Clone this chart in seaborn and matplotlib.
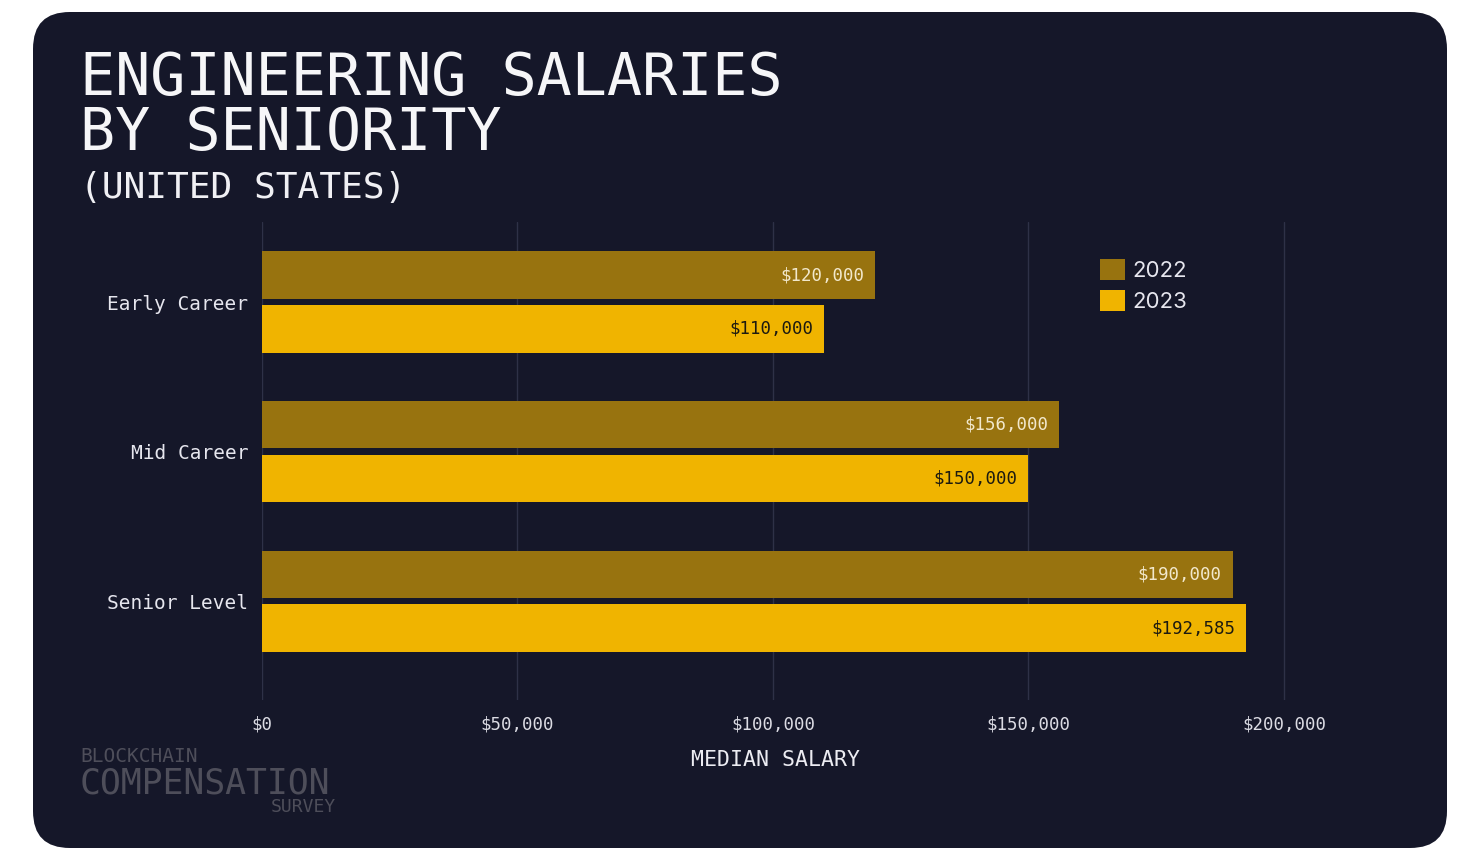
import pandas as pd
import matplotlib.pyplot as plt
import seaborn as sns
from matplotlib.patches import FancyBboxPatch
from matplotlib.ticker import FuncFormatter

# 数据
levels = ["Early Career", "Mid Career", "Senior Level"]
years = ["2022", "2023"]
salary_2022 = [120000, 156000, 190000]
salary_2023 = [110000, 150000, 192585]
x_ticks = [0, 50000, 100000, 150000, 200000]

df = pd.DataFrame({
    "level": levels * 2,
    "year": [years[0]] * 3 + [years[1]] * 3,
    "salary": salary_2022 + salary_2023,
})

BG = "#151729"
GOLD_DARK = "#98730f"
GOLD = "#f0b400"
MONO = "DejaVu Sans Mono"

sns.set_theme(style="dark")
plt.rcParams["font.family"] = ["DejaVu Sans Mono", "DejaVu Sans"]

W, H = 1474, 860
fig = plt.figure(figsize=(W / 100, H / 100), dpi=100, facecolor="white")

# 圆角深色面板 (放在坐标轴下面)
panel = FancyBboxPatch((33 / W, 1 - 848 / H), (1447 - 33) / W, (848 - 12) / H,
                       boxstyle="round,pad=0,rounding_size=0.025",
                       transform=fig.transFigure, facecolor=BG, edgecolor="none",
                       mutation_aspect=W / H, zorder=-1)
fig.patches.append(panel)

ax = fig.add_axes([262 / W, 1 - 700 / H, (1289 - 262) / W, (700 - 222) / H])
ax.set_facecolor("none")

sns.barplot(data=df, y="level", x="salary", hue="year", orient="h",
            palette=[GOLD_DARK, GOLD], width=0.72, gap=0.12,
            saturation=1, linewidth=0, ax=ax, zorder=3)

ax.set_xlim(0, 201000)
ax.set_ylim(2.66, -0.535)
ax.set_xticks(x_ticks)
ax.xaxis.set_major_formatter(FuncFormatter(lambda v, p: f"${v:,.0f}"))
ax.grid(axis="x", color="#2e3147", linewidth=1, zorder=0)
ax.grid(axis="y", visible=False)
ax.set_axisbelow(True)
for s in ax.spines.values():
    s.set_visible(False)

ax.tick_params(axis="x", colors="#3a3c52", length=3, width=1, pad=8,
               labelcolor="#dcdce4", labelsize=12.5)
ax.tick_params(axis="y", length=0, pad=10, labelcolor="#e6e6ee", labelsize=14)
for lab in ax.get_xticklabels() + ax.get_yticklabels():
    lab.set_family(MONO)

ax.set_ylabel("")
ax.set_xlabel("MEDIAN SALARY", color="#ececf2", fontsize=15.5, family=MONO, labelpad=12)

# 柱内数值标签
label_colors = ["#f2e8cc", "#1c1a10"]
for container, vals, tc in zip(ax.containers, [salary_2022, salary_2023], label_colors):
    for bar, v in zip(container, vals):
        ax.annotate(f"${v:,.0f}", (bar.get_x() + bar.get_width(), bar.get_y() + bar.get_height() / 2),
                    xytext=(-8, 0), textcoords="offset points", ha="right", va="center",
                    color=tc, fontsize=12.5, family=MONO, zorder=5)

# 图例
handles, labels = ax.get_legend_handles_labels()
for h in handles:
    h.set_linewidth(0)
ax.legend(handles, labels, loc="upper left", bbox_to_anchor=(1089 / W, 1 - 248 / H),
          bbox_transform=fig.transFigure, frameon=False, borderpad=0,
          handlelength=1.1, handleheight=1.1, handletextpad=0.35, labelspacing=0.38,
          prop={"family": "Inter", "size": 16}, labelcolor="#e6e6ee")

# 标题
fig.text(80 / W, 1 - 95 / H, "ENGINEERING SALARIES", color="#f6f6f8", fontsize=42,
         family=MONO, va="baseline")
fig.text(80 / W, 1 - 150 / H, "BY SENIORITY", color="#f6f6f8", fontsize=42,
         family=MONO, va="baseline")
fig.text(80 / W, 1 - 198 / H, "(UNITED STATES)", color="#f0f0f4", fontsize=26,
         family=MONO, va="baseline")

# 水印
wm = "#4e4e5a"
fig.text(80 / W, 1 - 762 / H, "BLOCKCHAIN", color=wm, fontsize=14, family=MONO, va="baseline")
fig.text(80 / W, 1 - 793 / H, "COMPENSATION", color=wm, fontsize=25, family=MONO, va="baseline")
fig.text(336 / W, 1 - 812 / H, "SURVEY", color=wm, fontsize=13, family=MONO,
         va="baseline", ha="right")

fig.savefig("out.png", dpi=100, facecolor="white")
